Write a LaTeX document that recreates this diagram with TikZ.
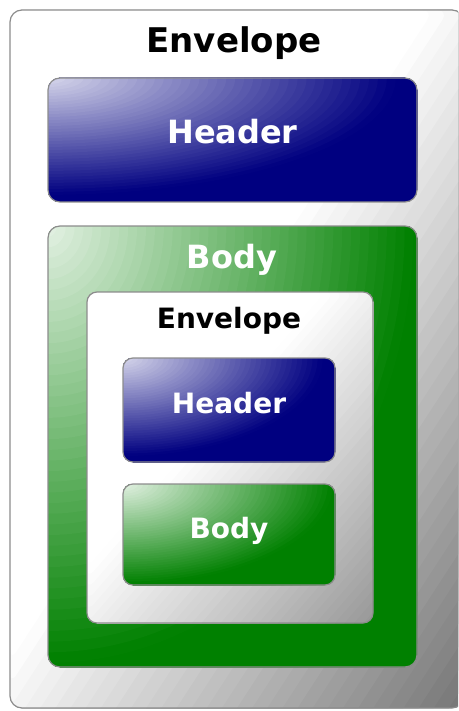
\documentclass[tikz,border=0pt]{standalone}
\usepackage{fontspec}
\setmainfont{DejaVu Sans}
\usetikzlibrary{positioning,calc}

\definecolor{navyc}{HTML}{000080}
\definecolor{greenc}{HTML}{008000}
\definecolor{edgec}{HTML}{8C8C8C}

% rings of colour round the top left corner of a box
\newcommand{\glowrings}[3]{%
  \foreach \k in {60,59,...,1}{
    \pgfmathsetmacro\rr{1.45*\k/60}
    \pgfmathsetmacro\wh{max(0,#2*(1-\rr/#3))}
    \fill[white!\wh!#1] let \p1=(path picture bounding box.north west), \p2=(path picture bounding box.south east) in
      (\p1) ellipse [x radius={\rr*(\x2-\x1)}, y radius={\rr*(\y1-\y2)}];
  }}
% grey ramp from the top left corner to the bottom right one
\newcommand{\greyramp}[2]{%
  \foreach \k in {60,59,...,1}{
    \pgfmathsetmacro\ss{2*\k/60}
    \pgfmathsetmacro\bk{max(0,#1*\ss-#2)}
    \fill[black!\bk!white] let \p1=(path picture bounding box.north west), \p2=(path picture bounding box.south east) in
      (\p1) -- ++({\ss*(\x2-\x1)},0pt) -- ++({-\ss*(\x2-\x1)},{-\ss*(\y1-\y2)}) -- cycle;
  }}

\begin{document}
\begin{tikzpicture}[
    x=1pt, y=-1pt,
    box/.style={rectangle, rounded corners=12pt, draw=edgec, line width=1.2pt, inner sep=0pt},
    headbox/.style={box, path picture={\glowrings{navyc}{85}{0.95}}, text=white, text height=0.73em, text depth=0pt},
    bodybox/.style={box, path picture={\glowrings{greenc}{90}{1.0}}, text=white, text height=0.73em, text depth=0pt},
    bigfont/.style={font=\fontsize{32}{36}\selectfont\bfseries},
    smallfont/.style={font=\fontsize{28}{32}\selectfont\bfseries}
]
\clip (0,0) rectangle (458,711);

% outer message
\node[box, path picture={\greyramp{50}{47}}, minimum width=454pt, minimum height=698pt] (env) at (237,359) {};
\node[font=\fontsize{34}{38}\selectfont\bfseries, anchor=base] (envtitle) at (234,53) {Envelope};
\node[headbox, bigfont, minimum width=369pt, minimum height=124pt] (head) at (232.5,140) {Header};
\node[bodybox, minimum width=369pt, minimum height=441pt] (body) at (232.5,446.5) {};
\node[bigfont, text=white, anchor=base] (bodytitle) at (232,268) {Body};

% nested message
\node[box, rounded corners=10pt, path picture={\greyramp{35}{30}}, minimum width=286pt, minimum height=331pt] (inenv) at (230,457.5) {};
\node[smallfont, anchor=base] (inenvtitle) at (229,328) {Envelope};
\node[headbox, smallfont, rounded corners=10pt, minimum width=212pt, minimum height=104pt] (inhead) at (229,410) {Header};
\node[bodybox, smallfont, rounded corners=10pt, minimum width=212pt, minimum height=101pt] (inbody) at (229,534.5) {Body};
\end{tikzpicture}
\end{document}
